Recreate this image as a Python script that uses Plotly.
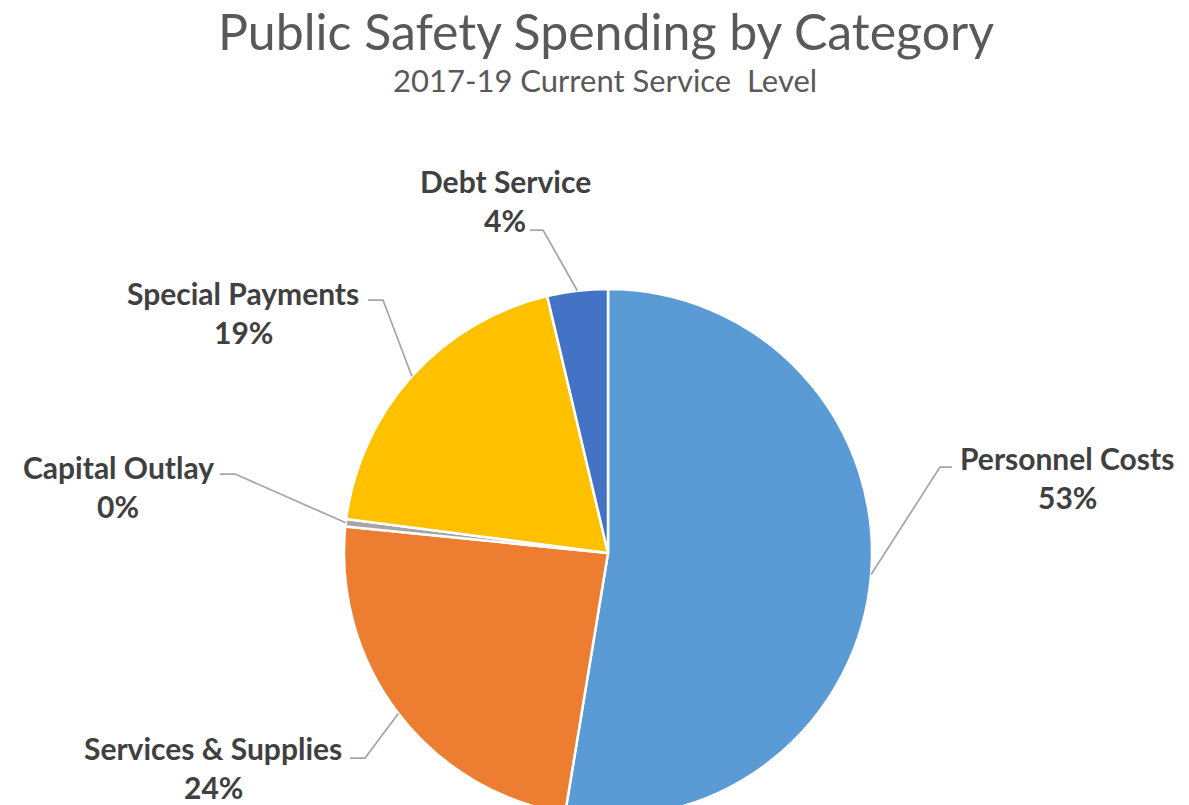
import math
import plotly.graph_objects as go

# Spending categories and their share of the 2017-19 current service level budget
categories = ["Personnel Costs", "Services & Supplies", "Capital Outlay", "Special Payments", "Debt Service"]
shares = [52.6, 24.0, 0.45, 19.25, 3.7]
colors = ["#5B9BD5", "#ED7D31", "#A5A5A5", "#FFC000", "#4472C4"]

title_text = "Public Safety Spending by Category"
subtitle_text = "2017-19 Current Service\u00a0 Level"

# Figure geometry (pixels)
W, H = 1189, 830
CX, CY, R = 608, 553, 264

# Label placement (pixels): text centre x, first-line y, and the elbow of the leader line
label_layout = {
    "Personnel Costs": dict(x=1067, y=458, elbow=(940, 467), end=(952, 467)),
    "Services & Supplies": dict(x=213, y=748, elbow=(365, 758), end=(350, 758)),
    "Capital Outlay": dict(x=118, y=467, elbow=(235, 474), end=(220, 474)),
    "Special Payments": dict(x=243, y=293, elbow=(383, 300), end=(368, 300)),
    "Debt Service": dict(x=505, y=181, elbow=(543, 230), end=(530, 230)),
}
LINE_GAP = 39


def px(x, y):
    """Pixel position (from top-left) to paper coordinates."""
    return x / W, (H - y) / H


fig = go.Figure(
    go.Pie(
        labels=categories,
        values=shares,
        sort=False,
        direction="clockwise",
        rotation=0,
        marker=dict(colors=colors, line=dict(color="white", width=2.5)),
        textinfo="none",
        hoverinfo="label+percent",
        showlegend=False,
        domain=dict(x=[(CX - R) / W, (CX + R) / W], y=[(H - CY - R) / H, (H - CY + R) / H]),
    )
)

total = sum(shares)
annotations = []
shapes = []
cum = 0.0
label_font = dict(family="Lato, Carlito, sans-serif", size=30, color="#404040")
for name, v in zip(categories, shares):
    mid = 2 * math.pi * (cum + v / 2) / total
    cum += v
    ex, ey = CX + R * math.sin(mid), CY - R * math.cos(mid)
    lay = label_layout[name]
    p0 = px(ex, ey)
    p1 = px(*lay["elbow"])
    p2 = px(*lay["end"])
    shapes.append(dict(
        type="path", xref="paper", yref="paper",
        path=f"M {p0[0]} {p0[1]} L {p1[0]} {p1[1]} L {p2[0]} {p2[1]}",
        line=dict(color="#A6A6A6", width=1.75),
    ))
    pct = f"{round(100 * v / total)}%"
    for i, txt in enumerate([name, pct]):
        ax, ay = px(lay["x"], lay["y"] + i * LINE_GAP)
        annotations.append(dict(
            x=ax, y=ay, xref="paper", yref="paper", text=f"<b>{txt}</b>",
            showarrow=False, xanchor="center", yanchor="middle", font=label_font,
        ))

tx, ty = px(606, 31)
annotations.append(dict(
    x=tx, y=ty, xref="paper", yref="paper", text=title_text, showarrow=False,
    xanchor="center", yanchor="middle",
    font=dict(family="Lato, Carlito, sans-serif", size=50, color="#595959"),
))
sx, sy = px(605, 80)
annotations.append(dict(
    x=sx, y=sy, xref="paper", yref="paper", text=subtitle_text, showarrow=False,
    xanchor="center", yanchor="middle",
    font=dict(family="Lato, Carlito, sans-serif", size=31, color="#595959"),
))

fig.update_layout(
    width=W, height=H,
    margin=dict(l=0, r=0, t=0, b=0),
    paper_bgcolor="white", plot_bgcolor="white",
    annotations=annotations, shapes=shapes,
)

fig.write_html("out.html")
